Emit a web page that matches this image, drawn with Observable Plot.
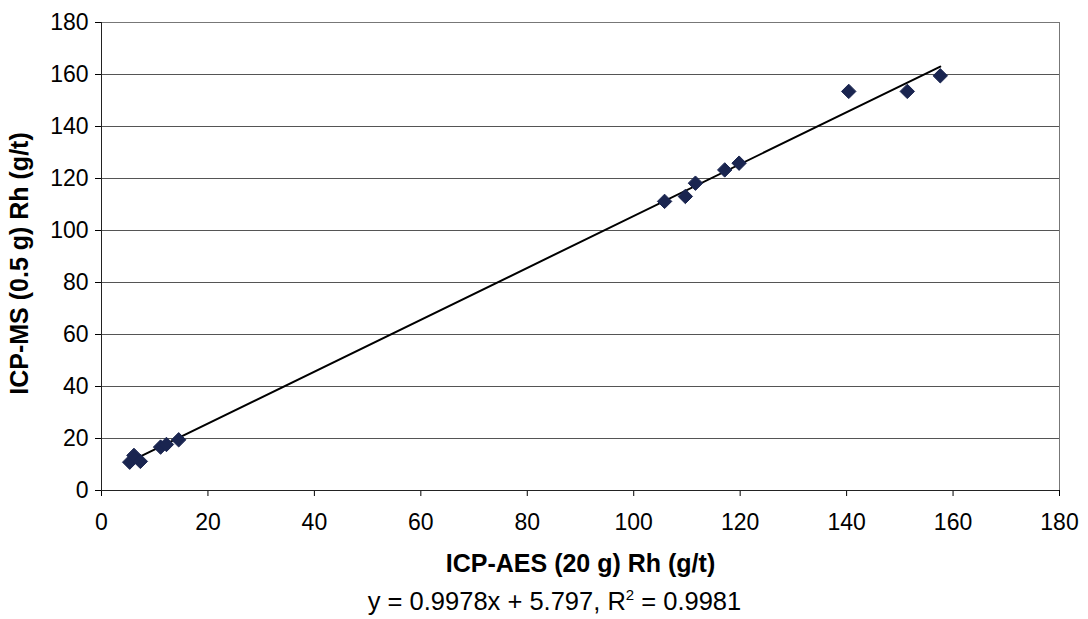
<!DOCTYPE html>
<html>
<head>
<meta charset="utf-8">
<script src="https://cdn.jsdelivr.net/npm/d3@7"></script>
<script src="https://cdn.jsdelivr.net/npm/@observablehq/plot@0.6"></script>
<style>
  body { margin: 0; background: #fff; font-family: "Liberation Sans", Arial, sans-serif; }
  #eq { text-align: center; font-size: 25.5px; line-height: 28px; color: #000; width: 1109px; margin-top: 7px; }
</style>
</head>
<body>
<div id="chart"></div>
<div id="eq">y = 0.9978x + 5.797, R<sup style="font-size:15px; vertical-align: 10px; line-height:0">2</sup> = 0.9981</div>
<script>
const aes = [5.3, 6.1, 7.3, 11.1, 12.2, 14.5, 105.8, 109.7, 111.6, 117.1, 119.8, 140.4, 151.4, 157.6];
const ms  = [10.9, 13.5, 11.2, 16.7, 17.7, 19.5, 111.2, 113.1, 118.2, 123.3, 125.9, 153.5, 153.5, 159.5];
const slope = 0.9978, intercept = 5.797;
const ticks = [0, 20, 40, 60, 80, 100, 120, 140, 160, 180];

const pts = aes.map((x, i) => ({x, y: ms[i]}));
const xmin = d3.min(aes), xmax = d3.max(aes);
const trend = [xmin, xmax].map(x => ({x, y: slope * x + intercept}));

const chart = Plot.plot({
  width: 1088,
  height: 580,
  marginLeft: 101,
  marginRight: 29,
  marginTop: 22,
  marginBottom: 90,
  style: {fontFamily: "Liberation Sans, Arial, sans-serif", fontSize: "23px", color: "#000", background: "#fff"},
  x: {domain: [0, 180]},
  y: {domain: [0, 180]},
  marks: [
    Plot.gridY(ticks, {stroke: "#555", strokeOpacity: 1, strokeWidth: 1}),
    Plot.frame({stroke: "#777"}),
    Plot.axisX({ticks, tickSize: 6, tickPadding: 17, fontSize: 23, labelArrow: "none", label: null}),
    Plot.axisX({ticks: [], fontSize: 25, label: "ICP-AES (20 g) Rh (g/t)", labelAnchor: "center", labelOffset: 81, labelArrow: "none", tickSize: 0}),
    Plot.axisY({ticks, tickSize: 6, tickPadding: 7, fontSize: 23, label: null}),
    Plot.axisY({ticks: [], fontSize: 25, label: "ICP-MS (0.5 g) Rh (g/t)", labelAnchor: "center", labelOffset: 91, labelArrow: "none", tickSize: 0}),
    Plot.ruleY([0], {stroke: "#222"}),
    Plot.ruleX([0], {stroke: "#222"}),
    Plot.line(trend, {x: "x", y: "y", stroke: "#000", strokeWidth: 2}),
    Plot.dot(pts, {x: "x", y: "y", symbol: "diamond2", r: 6.5, fill: "#1a2550", stroke: "#1a2550", strokeWidth: 1})
  ]
});
d3.select(chart).selectAll("[aria-label='x-axis label'], [aria-label='y-axis label']").attr("font-weight", "bold");
d3.select(chart).selectAll("[aria-label='y-axis label']").each(function() {
  const t = this.getAttribute("transform") || "";
  this.setAttribute("transform", (t + " translate(0,7)").trim());
});
document.getElementById("chart").appendChild(chart);
</script>
</body>
</html>
